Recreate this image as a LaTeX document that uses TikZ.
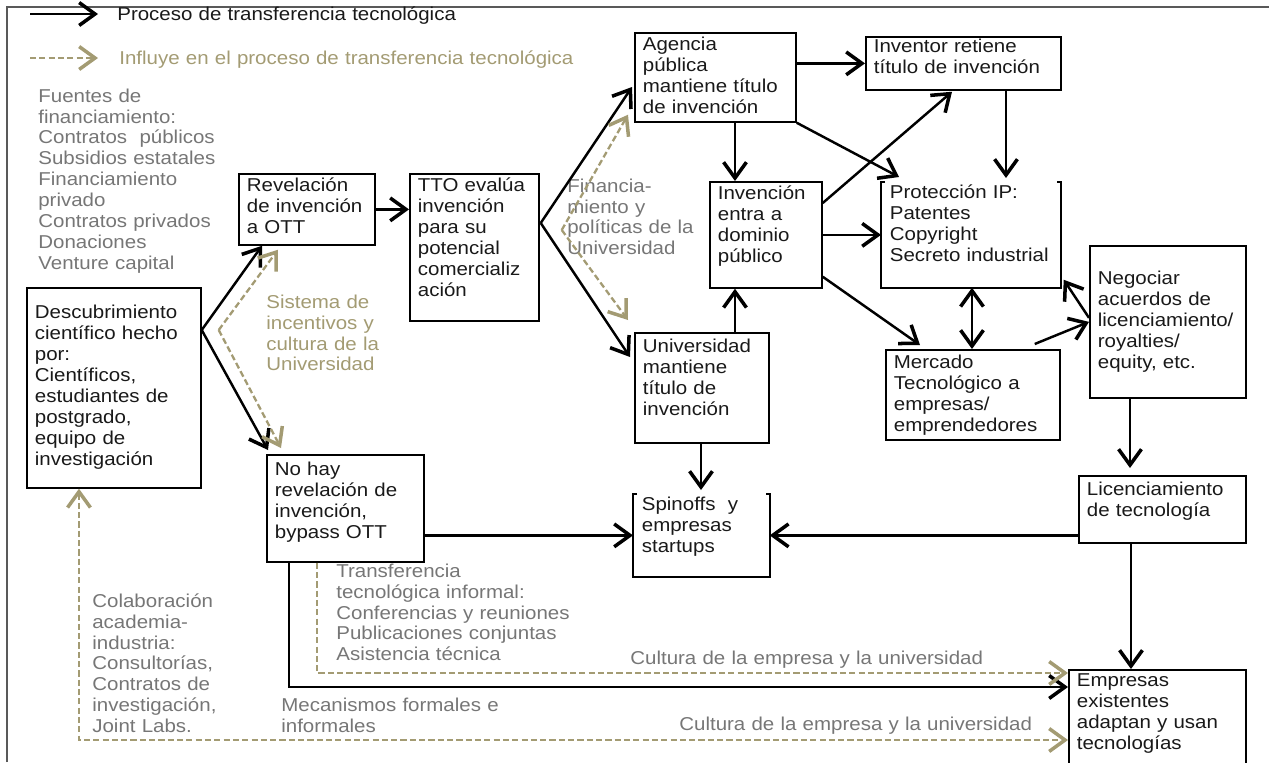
\documentclass[tikz,border=0pt]{standalone}
\usepackage{fontspec}
\setmainfont{Liberation Sans}[FakeStretch=1.1]
\usepackage{tikz}
\usetikzlibrary{arrows.meta,calc}
\definecolor{khaki}{RGB}{163,155,115}
\definecolor{txtgray}{RGB}{118,118,118}
\definecolor{ink}{RGB}{25,25,25}

\begin{document}
\begin{tikzpicture}[
            x = 0.02cm, y = -0.02cm, % one unit per pixel, y downwards
            > = {Straight Barb[length=9pt,width=13pt,line width=2pt]}, % arrow head style
            font = \fontsize{10.6pt}{11.95pt}\selectfont,
            box/.style = {draw=black, line width=1pt, anchor=north west, align=left,
                          inner xsep=0.16cm, inner ysep=0pt, text=ink},
            note/.style = {anchor=base west, align=left, inner sep=0pt, text width=10cm, text=txtgray},
            flow/.style = {->, line width=1.4pt},
            infl/.style = {->, draw=khaki, line width=1.3pt, dash pattern=on 3.5pt off 1.8pt}
        ]
\useasboundingbox (0,0) rectangle (1269,762);
\draw[line width=1pt, black!65] (7,762) |- (1269,7);

% legend
\node[note, text=ink] (leyA) at (117,20) {Proceso de transferencia tecnológica};
\node[note, text=khaki] (leyB) at (119,64) {Influye en el proceso de transferencia tecnológica};
\coordinate (keyA) at ($(leyA.base west)+(-87,-6)$);
\coordinate (keyB) at ($(leyB.base west)+(-89,-6)$);
\draw[flow] (keyA) -- ($(leyA.base west)+(-19,-6)$);
\draw[infl] (keyB) -- ($(leyB.base west)+(-21,-6)$);

% boxes
\node[box, text width=3.16cm, text height=0.62cm, text depth=3.38cm] (desc) at (26,287) {Descubrimiento\\científico hecho\\por:\\Científicos,\\estudiantes de\\postgrado,\\equipo de\\investigación};
\node[box, text width=2.40cm, text height=0.36cm, text depth=1.06cm] (rev) at (238,173) {Revelación\\de invención\\a OTT};
\node[box, text width=2.26cm, text height=0.36cm, text depth=2.58cm] (tto) at (409,173) {TTO evalúa\\invención\\para su\\potencial\\comercializ\\ación};
\node[box, text width=2.90cm, text height=0.36cm, text depth=1.42cm] (agencia) at (634,32) {Agencia\\pública\\mantiene título\\de invención};
\node[box, text width=3.58cm, text height=0.32cm, text depth=0.74cm] (inventor) at (865,36) {Inventor retiene\\título de invención};
\node[box, text width=1.92cm, text height=0.36cm, text depth=1.76cm] (invdom) at (709,181) {Invención\\entra a\\dominio\\público};
\node[box, draw=none, text width=3.24cm, text height=0.32cm, text depth=1.76cm] (prot) at (881,182) {Protección IP:\\Patentes\\Copyright\\Secreto industrial};
\node[box, text width=3.16cm, text height=0.38cm, text depth=1.42cm] (mercado) at (885,349) {Mercado\\Tecnológico a\\empresas/\\emprendedores};
\node[box, text width=2.80cm, text height=0.78cm, text depth=2.26cm] (negociar) at (1089,245) {Negociar\\acuerdos de\\licenciamiento/\\royalties/\\equity, etc.};
\node[box, text width=2.36cm, text height=0.40cm, text depth=1.80cm] (univ) at (634,332) {Universidad\\mantiene\\título de\\invención};
\node[box, draw=none, text width=2.38cm, text height=0.32cm, text depth=1.30cm] (spin) at (633,494) {Spinoffs\ \ y\\empresas\\startups};
\node[box, text width=3.02cm, text height=0.40cm, text depth=0.94cm] (licenc) at (1078,475) {Licenciamiento\\de tecnología};
\node[box, text width=2.82cm, text height=0.42cm, text depth=1.72cm] (nohay) at (266,454) {No hay\\revelación de\\invención,\\bypass OTT};
\node[box, text width=3.22cm, text height=0.34cm, text depth=1.86cm] (empresas) at (1068,669) {Empresas\\existentes\\adaptan y usan\\tecnologías};

\draw[line width=1pt] ($(prot.north west)+(4,0)$) -| (prot.south west) -| (prot.north east) -- ++(-4,0);
\draw[line width=1pt] ($(spin.north west)+(4,0)$) -| (spin.south west) -| (spin.north east) -- ++(-4,0);

% notes
\node[note] (fuentes) at (38,102) {Fuentes de\\financiamiento:\\Contratos\ \ públicos\\Subsidios estatales\\Financiamiento\\privado\\Contratos privados\\Donaciones\\Venture capital};
\node[note, text=khaki] (sistema) at (266,308) {Sistema de\\incentivos y\\cultura de la\\Universidad};
\node[note] (financia) at (567,192) {Financia-\\miento y\\políticas de la\\Universidad};
\node[note] (transf) at (336,577) {Transferencia\\tecnológica informal:\\Conferencias y reuniones\\Publicaciones conjuntas\\Asistencia técnica};
\node[note] (colab) at (92,607) {Colaboración\\academia-\\industria:\\Consultorías,\\Contratos de\\investigación,\\Joint Labs.};
\node[note] (mecan) at (281,711) {Mecanismos formales e\\informales};
\node[note] (cultA) at (630,664) {Cultura de la empresa y la universidad};
\node[note] (cultB) at (679,730) {Cultura de la empresa y la universidad};

% fork from the discovery
\coordinate (dv) at ($(desc.north east)+(0,43)$);
\coordinate (gv) at ($(dv)+(17,0)$);
\draw[flow] (dv) -- ($(rev.south west)+(24,0)$);
\draw[flow] (dv) -- ($(nohay.north west)+(2,-4)$);
\draw[infl] (gv) -- ($(rev.south west)+(40,4)$);
\draw[infl] (gv) -- ($(nohay.north west)+(15,-6)$);
\draw[flow] (rev.east) -- (rev.east -| tto.west);

% fork from the TTO
\coordinate (tv) at ($(tto.north east)+(1,50)$);
\coordinate (tg) at ($(tv)+(21,7)$);
\draw[flow] (tv) -- ($(agencia.north west)+(-2,55)$);
\draw[flow] (tv) -- ($(univ.north west)+(-4,25)$);
\draw[infl] (tg) -- ($(agencia.south west)+(-6,-8)$);
\draw[infl] (tg) -- ($(univ.north west)+(-6,-12)$);

\draw[flow] (agencia.east |- inventor.west) -- (inventor.west);
\draw[flow] ($(agencia.south west)+(101,0)$) -- ($(invdom.north west)+(26,0)$);
\draw[flow] (agencia.south east) -- ($(prot.north west)+(18,-5)$);
\draw[flow] ($(inventor.south west)+(141,0)$) -- ($(prot.north west)+(125,-4)$);

\draw[flow] ($(invdom.north east)+(0,22)$) -- ($(inventor.south west)+(87,1)$);
\draw[flow] (invdom.east) -- (invdom.east -| prot.west);
\draw[flow] ($(invdom.south east)+(0,-12)$) -- ($(mercado.north west)+(35,-4)$);
\draw[flow] ($(univ.north west)+(101,0)$) -- ($(invdom.south west)+(26,0)$);
\draw[flow] ($(univ.south west)+(67,0)$) -- ($(spin.north west)+(68,-4)$);

\draw[flow, <->] ($(prot.south west)+(91,0)$) -- ($(mercado.north west)+(87,0)$);
\draw[flow] ($(mercado.north east)+(-26,-5)$) -- (negociar.west);
\draw[flow] ($(negociar.west)+(0,-4)$) -- ($(prot.south east)+(3,-8)$);
\draw[flow] ($(negociar.south west)+(41,0)$) -- ($(licenc.north west)+(52,-7)$);
\draw[flow] (licenc.west |- spin.east) -- (spin.east);
\draw[flow] (spin.west -| nohay.east) -- (spin.west);
\draw[flow] ($(licenc.south west)+(53,0)$) -- ($(empresas.north west)+(63,0)$);

% links to the existing firms
\draw[flow] ($(nohay.south west)+(23,0)$) |- ($(empresas.north west)+(0,18)$);
\draw[infl] ($(nohay.south west)+(51,0)$) |- ($(empresas.north west)+(0,4)$);
\draw[infl, <->] ($(desc.south west)+(53,0)$) |- ($(empresas.north west)+(0,71)$);
\end{tikzpicture}
\end{document}
